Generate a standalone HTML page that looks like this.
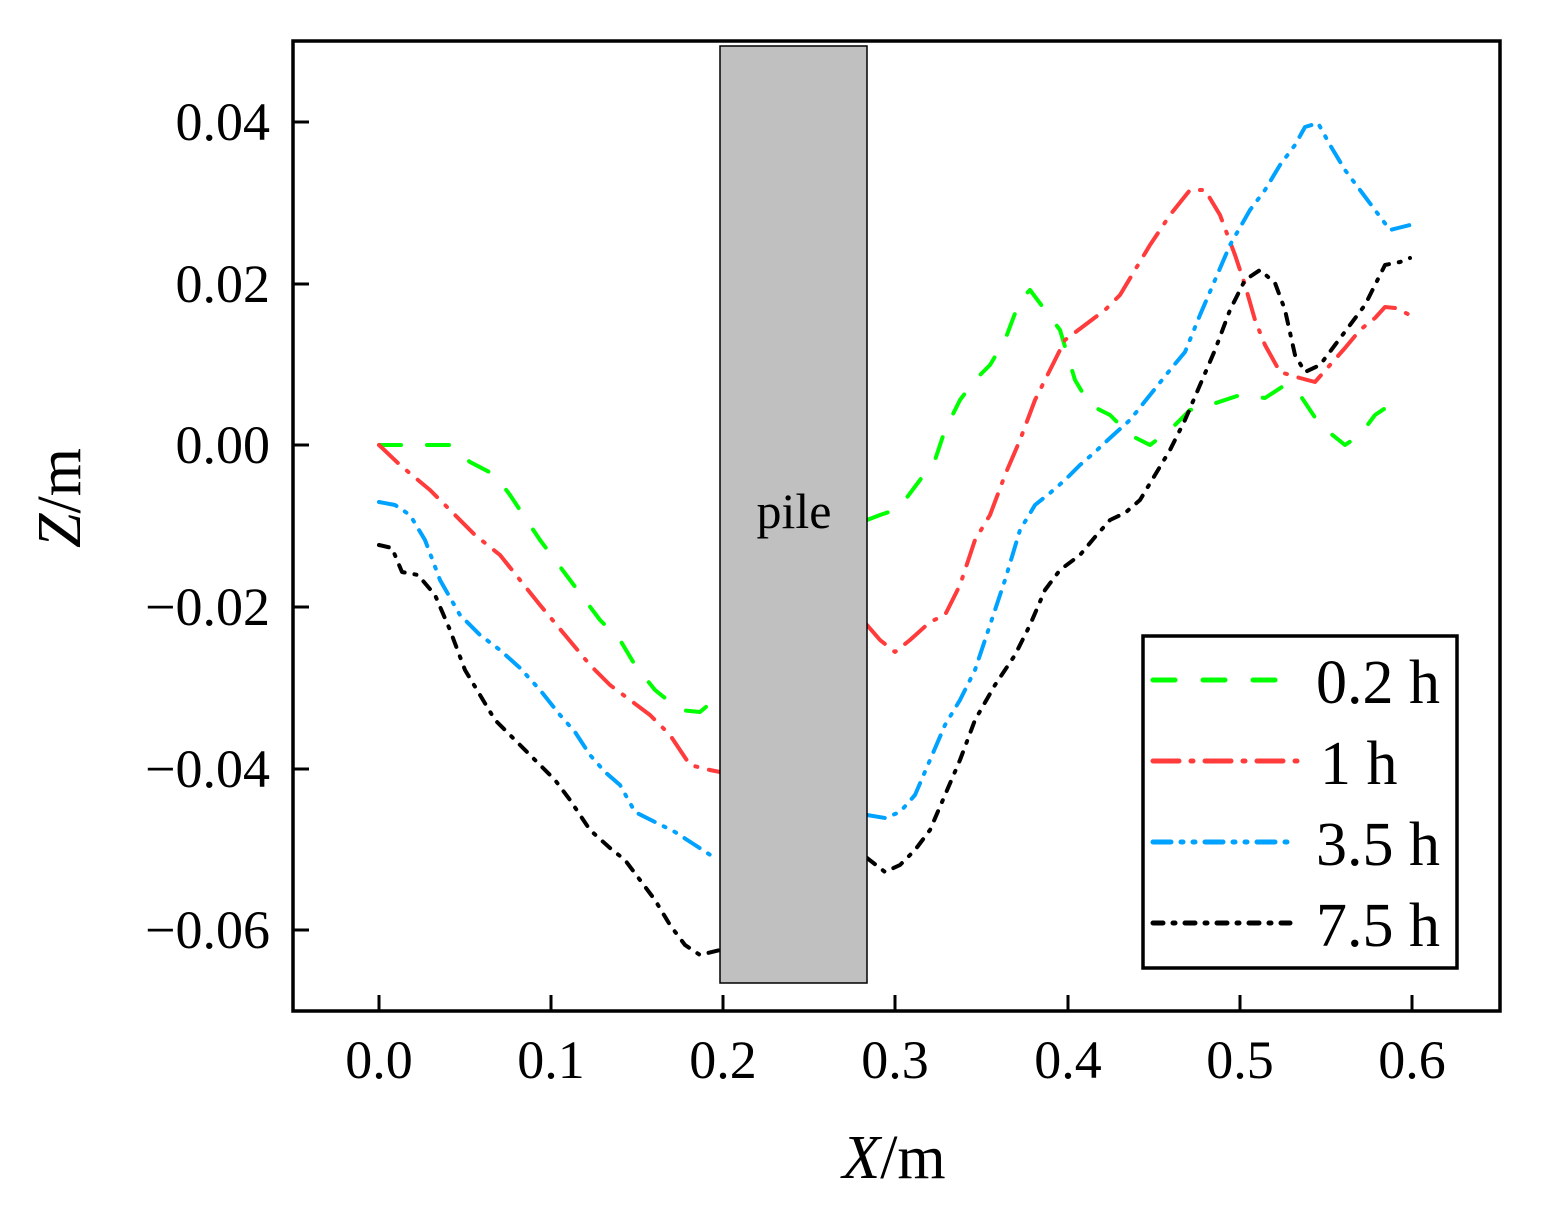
<!DOCTYPE html>
<html><head><meta charset="utf-8"><style>body{margin:0;background:#fff}svg{display:block}</style></head>
<body>
<svg width="1545" height="1209" xmlns="http://www.w3.org/2000/svg" font-family="Liberation Serif, serif">
<rect width="1545" height="1209" fill="#fff"/>
<g fill="none" stroke-width="4" stroke-linecap="round" stroke-linejoin="round">
<polyline stroke="#00ff00" stroke-dasharray="22 26" points="379,445 450,445 470,462 495,475 510,495 540,540 570,580 600,620 620,640 635,665 655,690 680,710 700,712 720,695"/>
<polyline stroke="#00ff00" stroke-dasharray="22 26" points="867,520 880,515 895,510 905,500 920,480 935,460 945,430 960,400 975,380 990,365 1005,340 1020,300 1030,290 1045,310 1060,330 1075,380 1090,405 1110,415 1130,435 1150,445 1170,430 1190,410 1210,405 1240,395 1265,398 1285,385 1300,395 1320,425 1345,445 1360,435 1375,415 1390,405"/>
<polyline stroke="#ff3b3b" stroke-dasharray="26 12 2 12" points="379,445 400,465 430,490 450,510 475,535 500,555 520,580 540,605 565,635 590,665 610,685 630,700 650,715 670,735 690,765 710,770 720,772"/>
<polyline stroke="#ff3b3b" stroke-dasharray="26 12 2 12" points="867,625 880,640 895,652 910,640 930,622 945,615 960,585 975,540 990,515 1005,475 1020,440 1035,400 1050,370 1065,340 1085,325 1105,310 1120,295 1135,270 1150,245 1170,215 1190,190 1205,190 1220,215 1235,255 1245,285 1255,320 1265,345 1280,372 1300,378 1315,382 1330,365 1345,348 1360,330 1375,318 1385,307 1395,308 1410,315"/>
<polyline stroke="#00a2ff" stroke-dasharray="18 10 2 10 2 10" points="379,502 395,505 410,515 425,540 440,580 460,615 480,635 500,650 520,668 540,690 560,715 575,732 590,755 605,772 620,785 635,812 655,822 675,832 695,845 715,858"/>
<polyline stroke="#00a2ff" stroke-dasharray="18 10 2 10 2 10" points="867,815 885,818 900,812 915,795 930,760 945,725 960,700 975,670 990,625 1005,580 1020,530 1035,505 1050,493 1065,480 1080,465 1095,452 1110,438 1130,420 1150,395 1170,370 1185,352 1200,315 1215,280 1230,245 1250,210 1265,190 1280,165 1295,145 1305,127 1318,123 1330,145 1345,170 1360,190 1375,210 1390,230 1410,225"/>
<polyline stroke="#000" stroke-dasharray="10 10 2 10" points="379,545 392,548 402,572 418,575 435,595 450,630 465,670 480,695 495,720 515,740 535,760 555,780 570,800 590,830 610,848 625,860 640,880 655,900 670,925 685,945 700,955 720,950"/>
<polyline stroke="#000" stroke-dasharray="10 10 2 10" points="867,858 885,872 900,865 915,850 930,830 945,795 960,760 975,720 995,685 1015,655 1030,625 1045,590 1060,570 1080,555 1095,537 1110,520 1125,513 1140,500 1155,475 1170,450 1185,420 1200,385 1215,350 1230,310 1245,280 1260,270 1275,283 1285,310 1295,355 1305,372 1320,365 1335,345 1350,325 1365,305 1375,285 1385,265 1400,262 1410,258"/>
</g>
<rect x="720" y="46" width="147" height="937" fill="#c0c0c0" stroke="#000" stroke-width="1.5"/>
<text x="794" y="528" font-size="50" text-anchor="middle">pile</text>
<rect x="293" y="41" width="1207" height="970" fill="none" stroke="#000" stroke-width="3.5"/>
<g stroke="#000" stroke-width="3">
<line x1="379" y1="1011" x2="379" y2="995"/><line x1="551" y1="1011" x2="551" y2="995"/><line x1="723" y1="1011" x2="723" y2="995"/><line x1="895" y1="1011" x2="895" y2="995"/><line x1="1068" y1="1011" x2="1068" y2="995"/><line x1="1240" y1="1011" x2="1240" y2="995"/><line x1="1412" y1="1011" x2="1412" y2="995"/>
<line x1="293" y1="122" x2="309" y2="122"/><line x1="293" y1="284" x2="309" y2="284"/><line x1="293" y1="445" x2="309" y2="445"/><line x1="293" y1="607" x2="309" y2="607"/><line x1="293" y1="769" x2="309" y2="769"/><line x1="293" y1="930" x2="309" y2="930"/>
</g>
<g font-size="54" text-anchor="middle">
<text x="379" y="1078">0.0</text><text x="551" y="1078">0.1</text><text x="723" y="1078">0.2</text><text x="895" y="1078">0.3</text><text x="1068" y="1078">0.4</text><text x="1240" y="1078">0.5</text><text x="1412" y="1078">0.6</text>
</g>
<g font-size="54" text-anchor="end">
<text x="270" y="140">0.04</text><text x="270" y="302">0.02</text><text x="270" y="463">0.00</text><text x="270" y="625">−0.02</text><text x="270" y="787">−0.04</text><text x="270" y="948">−0.06</text>
</g>
<text x="894" y="1178" font-size="62" text-anchor="middle"><tspan font-style="italic">X</tspan>/m</text>
<text transform="translate(80,498) rotate(-90)" font-size="62" text-anchor="middle"><tspan font-style="italic">Z</tspan>/m</text>
<rect x="1143" y="636" width="314" height="332" fill="#fff" stroke="#000" stroke-width="3.5"/>
<g stroke-width="5" stroke-linecap="round">
<line x1="1153" y1="680" x2="1278" y2="680" stroke="#00ff00" stroke-dasharray="22 28"/>
<line x1="1153" y1="761" x2="1300" y2="761" stroke="#ff3b3b" stroke-dasharray="26 12 2 12"/>
<line x1="1153" y1="842" x2="1290" y2="842" stroke="#00a2ff" stroke-dasharray="18 10 2 10 2 10"/>
<line x1="1153" y1="923" x2="1290" y2="923" stroke="#000" stroke-dasharray="10 10 2 10"/>
</g>
<g font-size="62">
<text x="1316" y="703">0.2 h</text><text x="1320" y="784">1 h</text><text x="1316" y="865">3.5 h</text><text x="1316" y="946">7.5 h</text>
</g>
</svg>
</body></html>
